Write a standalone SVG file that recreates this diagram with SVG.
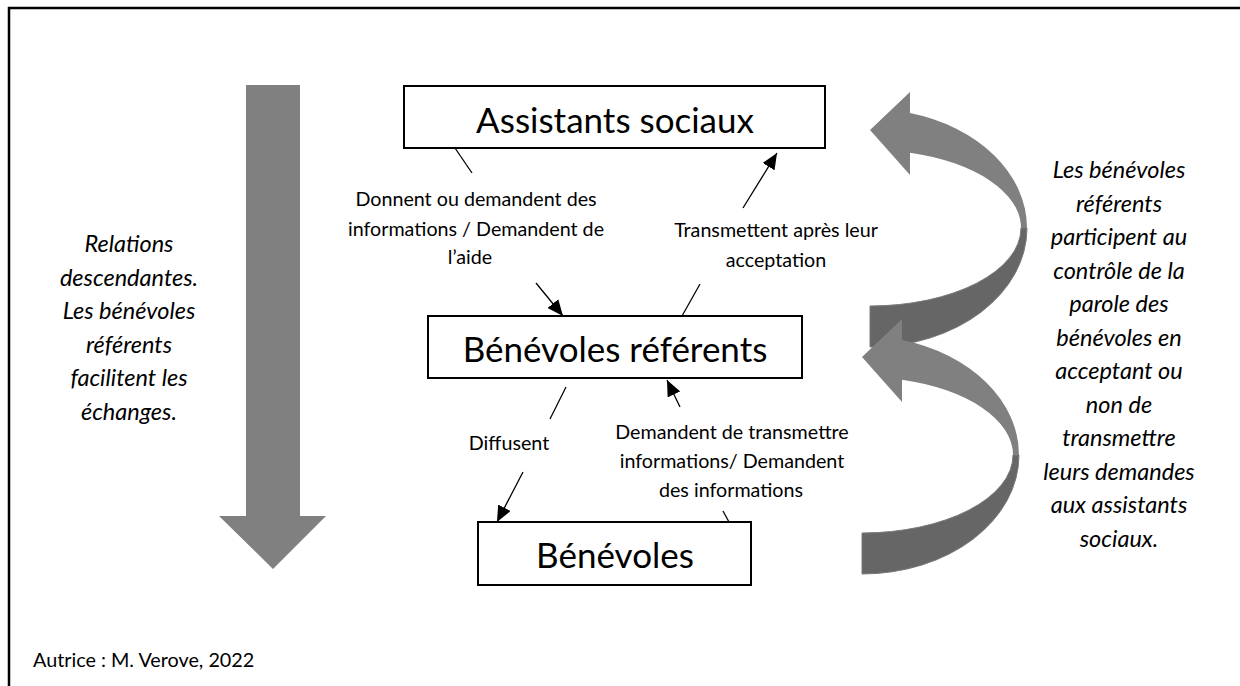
<svg xmlns="http://www.w3.org/2000/svg" width="1240" height="686" viewBox="0 0 1240 686">
<style>
  text { font-family: Lato, "Open Sans", sans-serif; fill: #000; }
  .box { fill: #fff; stroke: #000; stroke-width: 2; }
  .title { font-size: 35px; text-anchor: middle; }
  .lbl { font-size: 19.7px; text-anchor: middle; }
  .side { font-size: 23.5px; font-style: italic; text-anchor: middle; }
  .note { font-size: 19.8px; }
  .conn { stroke: #000; stroke-width: 1.3; fill: none; }
  .light { fill: #808080; }
  .dark { fill: #666666; stroke: #7a7a7a; stroke-width: 1; }
</style>
<defs>
  <marker id="ah" markerUnits="userSpaceOnUse" markerWidth="18" markerHeight="14" refX="16" refY="7" orient="auto">
    <path d="M0,0 L16,7 L0,14 Z" fill="#000"/>
  </marker>
  <g id="curve">
    <path class="dark" d="M1027,228 A157,119 0 0 1 870,347 L870,306 A151,78 0 0 0 1021,228 Z"/>
    <path class="light" d="M910,92 L870,130 L910,175 L910,152.8 A151,78 0 0 1 1021,228 L1027,228 A157,119 0 0 0 910,113 Z"/>
  </g>
</defs>

<g id="frame">
  <path d="M9,686 L9,8 L1240,8" fill="none" stroke="#000" stroke-width="2.5"/>
</g>

<g id="down-arrow">
  <path d="M246,85 L300,85 L300,516 L326,516 L273,569 L219,516 L246,516 Z" fill="#808080"/>
</g>

<g id="curved-arrow-top">
  <use href="#curve"/>
</g>
<g id="curved-arrow-bottom">
  <use href="#curve" transform="translate(-8,227)"/>
</g>

<g id="node-assistants">
  <rect class="box" x="404" y="86" width="421" height="62"/>
  <text class="title" x="615" y="133">Assistants sociaux</text>
</g>
<g id="node-referents">
  <rect class="box" x="428" y="316" width="374" height="62"/>
  <text class="title" x="615" y="362">Bénévoles référents</text>
</g>
<g id="node-benevoles">
  <rect class="box" x="478" y="522" width="273" height="63"/>
  <text class="title" x="615" y="568">Bénévoles</text>
</g>

<g id="connectors">
  <line class="conn" x1="455" y1="148" x2="472" y2="173"/>
  <line class="conn" x1="536" y1="283" x2="563" y2="316" marker-end="url(#ah)"/>
  <line class="conn" x1="682" y1="316" x2="700" y2="284"/>
  <line class="conn" x1="743" y1="208" x2="777" y2="153" marker-end="url(#ah)"/>
  <line class="conn" x1="566" y1="387" x2="550" y2="419"/>
  <line class="conn" x1="523" y1="472" x2="497" y2="522" marker-end="url(#ah)"/>
  <line class="conn" x1="729" y1="522" x2="723" y2="511"/>
  <line class="conn" x1="680" y1="407" x2="667" y2="380" marker-end="url(#ah)"/>
</g>

<g id="labels">
  <text class="lbl" x="476" y="206">Donnent ou demandent des</text>
  <text class="lbl" x="476" y="236">informations / Demandent de</text>
  <text class="lbl" x="470" y="264">l’aide</text>
  <text class="lbl" x="776" y="237">Transmettent après leur</text>
  <text class="lbl" x="776" y="267">acceptation</text>
  <text class="lbl" x="509" y="450">Diffusent</text>
  <text class="lbl" x="732" y="439">Demandent de transmettre</text>
  <text class="lbl" x="732" y="468">informations/ Demandent</text>
  <text class="lbl" x="731" y="497">des informations</text>
</g>

<g id="side-left">
  <text class="side" x="129" y="252">Relations</text>
  <text class="side" x="129" y="285.5">descendantes.</text>
  <text class="side" x="129" y="319">Les bénévoles</text>
  <text class="side" x="129" y="352.5">référents</text>
  <text class="side" x="129" y="386">facilitent les</text>
  <text class="side" x="129" y="419.5">échanges.</text>
</g>

<g id="side-right">
  <text class="side" x="1119" y="178">Les bénévoles</text>
  <text class="side" x="1119" y="211.5">référents</text>
  <text class="side" x="1119" y="245">participent au</text>
  <text class="side" x="1119" y="278.5">contrôle de la</text>
  <text class="side" x="1119" y="312">parole des</text>
  <text class="side" x="1119" y="345.5">bénévoles en</text>
  <text class="side" x="1119" y="379">acceptant ou</text>
  <text class="side" x="1119" y="412.5">non de</text>
  <text class="side" x="1119" y="446">transmettre</text>
  <text class="side" x="1119" y="479.5">leurs demandes</text>
  <text class="side" x="1119" y="513">aux assistants</text>
  <text class="side" x="1119" y="546.5">sociaux.</text>
</g>

<g id="credit">
  <text class="note" x="33" y="667">Autrice : M. Verove, 2022</text>
</g>
</svg>
